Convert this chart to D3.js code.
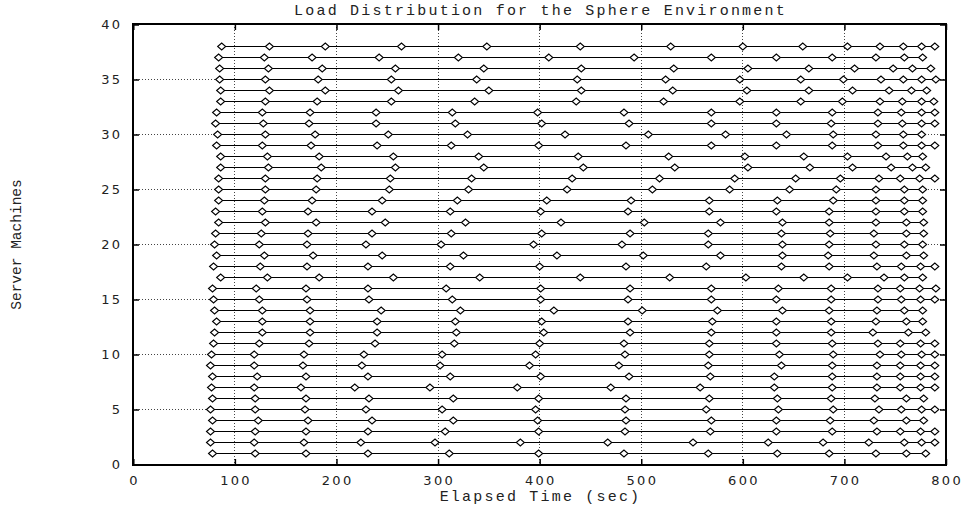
<!DOCTYPE html>
<html>
<head>
<meta charset="utf-8">
<script src="https://cdn.jsdelivr.net/npm/d3@7/dist/d3.min.js"></script>
<style>
  html, body { margin: 0; padding: 0; background: #fff; }
  svg { display: block; }
</style>
</head>
<body>
<svg id="chart" width="967" height="510"></svg>
<script>
// ---- data: arrival times (sec) of load on each server machine ----
const m1  = [78, 120, 170, 231, 311, 399, 483, 566, 634, 685, 731, 761, 780];
const m2  = [76, 119, 168, 224, 297, 381, 467, 551, 625, 679, 724, 759, 776, 789];
const m3  = [76, 120, 170, 231, 307, 399, 484, 568, 633, 688, 732, 755, 775, 789];
const m4  = [78, 123, 172, 235, 315, 398, 485, 569, 633, 686, 729, 761, 778];
const m5  = [76, 120, 169, 229, 304, 396, 484, 564, 635, 689, 734, 756, 776, 789];
const m6  = [78, 120, 170, 232, 315, 399, 485, 567, 634, 687, 730, 761, 778];
const m7  = [77, 119, 165, 218, 292, 378, 470, 558, 631, 688, 732, 755, 775, 789];
const m8  = [78, 122, 170, 231, 312, 401, 488, 568, 631, 688, 732, 755, 775, 789];
const m9  = [76, 119, 167, 225, 302, 390, 478, 566, 638, 688, 732, 755, 775, 789];
const m10 = [77, 119, 168, 227, 304, 396, 484, 567, 636, 689, 735, 756, 776, 789];
const m11 = [79, 124, 173, 238, 316, 400, 483, 567, 633, 688, 733, 755, 775, 789];
const m12 = [80, 127, 174, 240, 318, 404, 489, 569, 633, 687, 728, 763, 780];
const m13 = [82, 127, 174, 240, 317, 402, 487, 570, 633, 687, 731, 761, 777];
const m14 = [80, 127, 174, 244, 322, 414, 501, 575, 639, 685, 732, 759, 777];
const m15 = [79, 124, 171, 232, 314, 401, 487, 569, 633, 687, 733, 756, 775, 789];
const m16 = [78, 121, 170, 231, 308, 401, 489, 569, 635, 687, 733, 755, 774, 790];
const m17 = [86, 132, 183, 256, 341, 440, 528, 603, 660, 703, 739, 759, 777];
const m18 = [79, 125, 171, 231, 312, 400, 485, 564, 638, 685, 732, 756, 775, 789];
const m19 = [82, 129, 177, 245, 325, 417, 502, 578, 639, 684, 729, 761, 778];
const m20 = [80, 124, 171, 229, 303, 394, 481, 566, 639, 685, 731, 759, 777];
const m21 = [81, 126, 172, 235, 313, 402, 489, 566, 638, 686, 729, 761, 778];
const m22 = [84, 130, 180, 248, 327, 421, 503, 578, 639, 685, 731, 761, 778];
const m23 = [81, 127, 172, 235, 312, 401, 487, 567, 633, 685, 731, 759, 777];
const m24 = [84, 129, 176, 245, 319, 407, 490, 567, 634, 689, 731, 759, 777];
const m25 = [84, 130, 180, 252, 330, 427, 511, 587, 646, 692, 731, 759, 777];
const m26 = [84, 130, 181, 253, 333, 432, 518, 592, 652, 696, 734, 755, 774, 789];
const m27 = [86, 133, 185, 258, 345, 443, 533, 605, 666, 708, 746, 767, 780];
const m28 = [86, 132, 183, 256, 340, 438, 527, 602, 660, 703, 741, 762, 777];
const m29 = [82, 127, 175, 240, 313, 399, 485, 569, 633, 688, 733, 758, 776, 789];
const m30 = [83, 130, 179, 251, 329, 425, 507, 583, 643, 689, 731, 758, 776];
const m31 = [81, 128, 173, 239, 317, 402, 488, 569, 633, 687, 733, 757, 776, 789];
const m32 = [82, 127, 174, 239, 314, 398, 483, 569, 633, 688, 733, 756, 776, 789];
const m33 = [86, 130, 181, 254, 336, 436, 522, 597, 657, 698, 735, 757, 776, 788];
const m34 = [86, 134, 189, 261, 350, 441, 531, 604, 665, 708, 744, 766, 781];
const m35 = [85, 130, 182, 254, 338, 437, 524, 597, 657, 699, 736, 758, 776, 790];
const m36 = [85, 133, 186, 258, 345, 441, 532, 605, 665, 710, 748, 767, 785];
const m37 = [84, 129, 176, 242, 320, 409, 493, 569, 633, 688, 731, 759, 777];
const m38 = [87, 134, 189, 264, 348, 440, 529, 600, 659, 703, 735, 758, 776, 789];

const machineTimes = [m1, m2, m3, m4, m5, m6, m7, m8, m9, m10, m11, m12, m13, m14, m15, m16, m17, m18, m19,
  m20, m21, m22, m23, m24, m25, m26, m27, m28, m29, m30, m31, m32, m33, m34, m35, m36, m37, m38];
const machineIds = machineTimes.map((_, i) => i + 1);

const xTicks = [0, 100, 200, 300, 400, 500, 600, 700, 800];
const yTicks = [0, 5, 10, 15, 20, 25, 30, 35, 40];

const titleText = "Load Distribution for the Sphere Environment";
const xLabelText = "Elapsed Time (sec)";
const yLabelText = "Server Machines";

// ---- layout ----
const svg = d3.select("#chart");
const L = 133, R = 946, T = 24, B = 465;
const x = d3.scaleLinear().domain([0, 800]).range([L + 0.3, R]);
const y = d3.scaleLinear().domain([0, 40]).range([B - 0.5, T + 0.5]);
const crisp = v => Math.round(v - 0.5) + 0.5;

// grid lines (dotted)
const grid = svg.append("g").attr("stroke", "#444").attr("stroke-width", 1).attr("stroke-dasharray", "1,2");
grid.selectAll("line.vx").data(xTicks.filter(d => d > 0 && d < 800)).join("line")
  .attr("x1", d => crisp(x(d))).attr("x2", d => crisp(x(d)))
  .attr("y1", T).attr("y2", B);
grid.selectAll("line.hy").data(yTicks.filter(d => d > 0 && d < 40)).join("line")
  .attr("y1", d => crisp(y(d))).attr("y2", d => crisp(y(d)))
  .attr("x1", L).attr("x2", R);

// axes via d3 (ticks inside, mirrored)
const tickLen = 6;
const axB = svg.append("g").attr("transform", `translate(0,${B})`)
  .call(d3.axisTop(x).tickValues(xTicks).tickSize(tickLen).tickFormat(""));
const axT = svg.append("g").attr("transform", `translate(0,${T})`)
  .call(d3.axisBottom(x).tickValues(xTicks).tickSize(tickLen).tickFormat(""));
const axL = svg.append("g").attr("transform", `translate(${L},0)`)
  .call(d3.axisRight(y).tickValues(yTicks).tickSize(tickLen).tickFormat(""));
const axR = svg.append("g").attr("transform", `translate(${R},0)`)
  .call(d3.axisLeft(y).tickValues(yTicks).tickSize(tickLen).tickFormat(""));
[axB, axT, axL, axR].forEach(a => {
  a.select(".domain").remove();
  a.selectAll(".tick line").attr("stroke", "#000").attr("stroke-width", 1.5);
});

// tick labels
const tickFont = "'DejaVu Sans', sans-serif";
const ls = 2.3;
svg.append("g").selectAll("text").data(xTicks).join("text")
  .attr("x", d => x(d) + ls / 2).attr("y", 484.5)
  .attr("text-anchor", "middle")
  .attr("font-family", tickFont).attr("font-size", 13).attr("letter-spacing", ls)
  .attr("fill", "#222").text(d => d);
svg.append("g").selectAll("text").data(yTicks).join("text")
  .attr("x", 120 + ls).attr("y", d => y(d) + 4.7)
  .attr("text-anchor", "end")
  .attr("font-family", tickFont).attr("font-size", 13).attr("letter-spacing", ls)
  .attr("fill", "#222").text(d => d);

// rows: line from first to last arrival, diamonds at each arrival
const rows = svg.append("g");
machineTimes.forEach((times, i) => {
  const id = machineIds[i];
  const yy = crisp(y(id));
  rows.append("line")
    .attr("x1", x(d3.min(times))).attr("x2", x(d3.max(times)))
    .attr("y1", yy).attr("y2", yy)
    .attr("stroke", "#000").attr("stroke-width", 1.1);
  rows.append("g").selectAll("path").data(times).join("path")
    .attr("d", d => {
      const cx = x(d), hw = 4, hh = 3.5;
      return `M${cx - hw},${yy}L${cx},${yy - hh}L${cx + hw},${yy}L${cx},${yy + hh}Z`;
    })
    .attr("fill", "#fff").attr("stroke", "#000").attr("stroke-width", 1.1);
});

// frame
svg.append("rect").attr("x", L).attr("y", T).attr("width", R - L).attr("height", B - T)
  .attr("fill", "none").attr("stroke", "#000").attr("stroke-width", 2);

// title and axis labels
const monoFont = "'Liberation Mono', 'Courier New', monospace";
svg.append("text").attr("x", (L + R) / 2 + 1).attr("y", 15)
  .attr("text-anchor", "middle").attr("font-family", monoFont).attr("font-size", 15)
  .attr("letter-spacing", 2.2).attr("fill", "#222").text(titleText);
svg.append("text").attr("x", (L + R) / 2 + 1).attr("y", 501)
  .attr("text-anchor", "middle").attr("font-family", monoFont).attr("font-size", 15)
  .attr("letter-spacing", 2.2).attr("fill", "#222").text(xLabelText);
svg.append("text").attr("transform", `translate(21,${(T + B) / 2}) rotate(-90)`)
  .attr("text-anchor", "middle").attr("font-family", monoFont).attr("font-size", 14.5)
  .attr("fill", "#222").text(yLabelText);
</script>
</body>
</html>
